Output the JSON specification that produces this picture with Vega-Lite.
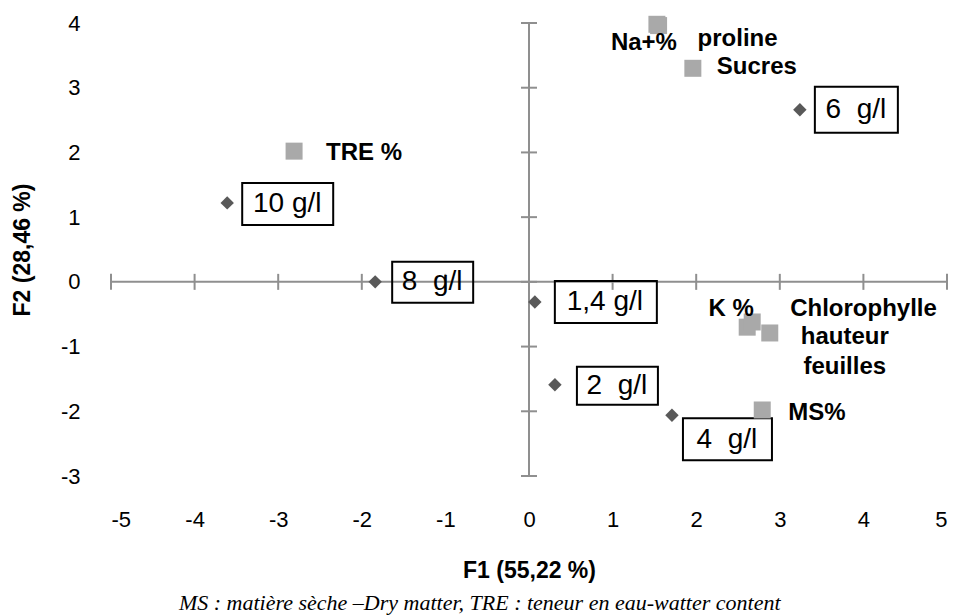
{
  "$schema": "https://vega.github.io/schema/vega-lite/v6.json",
  "width": 836,
  "height": 453,
  "autosize": {"type": "none"},
  "padding": {"left": 111, "top": 23, "right": 10, "bottom": 139},
  "background": "white",
  "config": {
    "view": {"stroke": null},
    "font": "Liberation Sans",
    "axis": {
      "domain": false, "ticks": false, "tickSize": 0, "grid": false,
      "labelFont": "Liberation Sans", "labelFontSize": 22, "labelColor": "#000000",
      "titleFont": "Liberation Sans", "titleFontSize": 23, "titleFontWeight": "bold", "titleColor": "#000000"
    },
    "axisX": {"labelPadding": 33, "titlePadding": 29},
    "axisY": {"labelPadding": 31, "titlePadding": 26}
  },
  "title": {
    "text": "MS : matière sèche –Dry matter, TRE : teneur en eau-watter content",
    "orient": "bottom", "anchor": "middle", "frame": "bounds",
    "font": "Liberation Serif", "fontSize": 22, "fontStyle": "italic", "fontWeight": "normal",
    "color": "#000000", "offset": 11
  },
  "datasets": {
    "conc": [
      {"conc": 10, "label": "10 g/l", "F1": -3.61, "F2": 1.22},
      {"conc": 8, "label": "8\u00a0\u00a0g/l", "F1": -1.84, "F2": 0.0},
      {"conc": 1.4, "label": "1,4 g/l", "F1": 0.07, "F2": -0.31},
      {"conc": 2, "label": "2\u00a0\u00a0g/l", "F1": 0.31, "F2": -1.59},
      {"conc": 4, "label": "4\u00a0\u00a0g/l", "F1": 1.71, "F2": -2.06},
      {"conc": 6, "label": "6\u00a0\u00a0g/l", "F1": 3.24, "F2": 2.66}
    ],
    "vars": [
      {"label": "TRE %", "F1": -2.81, "F2": 2.02},
      {"label": "Na+%", "F1": 1.53, "F2": 3.98},
      {"label": "proline", "F1": 1.55, "F2": 3.96},
      {"label": "Sucres", "F1": 1.96, "F2": 3.30},
      {"label": "K %", "F1": 2.61, "F2": -0.70},
      {"label": "Chlorophylle", "F1": 2.67, "F2": -0.62},
      {"label": "hauteur feuilles", "F1": 2.88, "F2": -0.79},
      {"label": "MS%", "F1": 2.79, "F2": -1.98}
    ],
    "xt": [{"v": -5}, {"v": -4}, {"v": -3}, {"v": -2}, {"v": -1}, {"v": 0}, {"v": 1}, {"v": 2}, {"v": 3}, {"v": 4}, {"v": 5}],
    "yt": [{"v": -3}, {"v": -2}, {"v": -1}, {"v": 0}, {"v": 1}, {"v": 2}, {"v": 3}, {"v": 4}]
  },
  "layer": [
    {
      "data": {"values": [{}]},
      "mark": {"type": "rule", "color": "#8f8f8f", "strokeWidth": 2},
      "encoding": {
        "x": {"datum": -5, "type": "quantitative",
          "scale": {"domain": [-5, 5], "nice": false, "zero": false},
          "axis": {"values": [-5, -4, -3, -2, -1, 0, 1, 2, 3, 4, 5], "labelExpr": "'' + datum.value", "title": "F1 (55,22 %)"}},
        "x2": {"datum": 5},
        "y": {"datum": 0, "type": "quantitative",
          "scale": {"domain": [-3, 4], "nice": false, "zero": false},
          "axis": {"values": [-3, -2, -1, 0, 1, 2, 3, 4], "labelExpr": "'' + datum.value", "title": "F2 (28,46 %)"}}
      }
    },
    {
      "data": {"values": [{}]},
      "mark": {"type": "rule", "color": "#8f8f8f", "strokeWidth": 2},
      "encoding": {
        "x": {"datum": 0, "type": "quantitative"},
        "y": {"datum": -3, "type": "quantitative"},
        "y2": {"datum": 4}
      }
    },
    {
      "data": {"name": "xt"},
      "mark": {"type": "tick", "orient": "vertical", "size": 16, "thickness": 2, "color": "#8f8f8f", "opacity": 1},
      "encoding": {
        "x": {"field": "v", "type": "quantitative"},
        "y": {"datum": 0, "type": "quantitative"}
      }
    },
    {
      "data": {"name": "yt"},
      "mark": {"type": "tick", "orient": "horizontal", "size": 16, "thickness": 2, "color": "#8f8f8f", "opacity": 1},
      "encoding": {
        "x": {"datum": 0, "type": "quantitative"},
        "y": {"field": "v", "type": "quantitative"}
      }
    },
    {
      "data": {"name": "conc"},
      "layer": [
        {
          "mark": {"type": "point", "shape": "diamond", "filled": true, "size": 180, "color": "#595959", "opacity": 1},
          "encoding": {"x": {"field": "F1", "type": "quantitative"}, "y": {"field": "F2", "type": "quantitative"}}
        },
        {
          "transform": [{"filter": "datum.conc === 10"}],
          "layer": [
            {"mark": {"type": "rect", "fill": "transparent", "stroke": "#000000", "strokeWidth": 2, "xOffset": 15, "x2Offset": 106, "yOffset": -20, "y2Offset": 22},
             "encoding": {"x": {"field": "F1", "type": "quantitative"}, "x2": {"field": "F1"}, "y": {"field": "F2", "type": "quantitative"}, "y2": {"field": "F2"}}},
            {"mark": {"type": "text", "fontSize": 28, "color": "#000000", "align": "center", "baseline": "middle", "dx": 60, "dy": 1},
             "encoding": {"x": {"field": "F1", "type": "quantitative"}, "y": {"field": "F2", "type": "quantitative"}, "text": {"field": "label"}}}
          ]
        },
        {
          "transform": [{"filter": "datum.conc === 8"}],
          "layer": [
            {"mark": {"type": "rect", "fill": "transparent", "stroke": "#000000", "strokeWidth": 2, "xOffset": 17, "x2Offset": 98, "yOffset": -20, "y2Offset": 21},
             "encoding": {"x": {"field": "F1", "type": "quantitative"}, "x2": {"field": "F1"}, "y": {"field": "F2", "type": "quantitative"}, "y2": {"field": "F2"}}},
            {"mark": {"type": "text", "fontSize": 28, "color": "#000000", "align": "center", "baseline": "middle", "dx": 57, "dy": 0},
             "encoding": {"x": {"field": "F1", "type": "quantitative"}, "y": {"field": "F2", "type": "quantitative"}, "text": {"field": "label"}}}
          ]
        },
        {
          "transform": [{"filter": "datum.conc === 1.4"}],
          "layer": [
            {"mark": {"type": "rect", "fill": "transparent", "stroke": "#000000", "strokeWidth": 2, "xOffset": 20, "x2Offset": 122, "yOffset": -21, "y2Offset": 21},
             "encoding": {"x": {"field": "F1", "type": "quantitative"}, "x2": {"field": "F1"}, "y": {"field": "F2", "type": "quantitative"}, "y2": {"field": "F2"}}},
            {"mark": {"type": "text", "fontSize": 28, "color": "#000000", "align": "center", "baseline": "middle", "dx": 70, "dy": 0},
             "encoding": {"x": {"field": "F1", "type": "quantitative"}, "y": {"field": "F2", "type": "quantitative"}, "text": {"field": "label"}}}
          ]
        },
        {
          "transform": [{"filter": "datum.conc === 2"}],
          "layer": [
            {"mark": {"type": "rect", "fill": "transparent", "stroke": "#000000", "strokeWidth": 2, "xOffset": 22, "x2Offset": 103, "yOffset": -18, "y2Offset": 20},
             "encoding": {"x": {"field": "F1", "type": "quantitative"}, "x2": {"field": "F1"}, "y": {"field": "F2", "type": "quantitative"}, "y2": {"field": "F2"}}},
            {"mark": {"type": "text", "fontSize": 28, "color": "#000000", "align": "center", "baseline": "middle", "dx": 62, "dy": 1},
             "encoding": {"x": {"field": "F1", "type": "quantitative"}, "y": {"field": "F2", "type": "quantitative"}, "text": {"field": "label"}}}
          ]
        },
        {
          "transform": [{"filter": "datum.conc === 4"}],
          "layer": [
            {"mark": {"type": "rect", "fill": "transparent", "stroke": "#000000", "strokeWidth": 2, "xOffset": 11, "x2Offset": 100, "yOffset": 3, "y2Offset": 45},
             "encoding": {"x": {"field": "F1", "type": "quantitative"}, "x2": {"field": "F1"}, "y": {"field": "F2", "type": "quantitative"}, "y2": {"field": "F2"}}},
            {"mark": {"type": "text", "fontSize": 28, "color": "#000000", "align": "center", "baseline": "middle", "dx": 55, "dy": 25},
             "encoding": {"x": {"field": "F1", "type": "quantitative"}, "y": {"field": "F2", "type": "quantitative"}, "text": {"field": "label"}}}
          ]
        },
        {
          "transform": [{"filter": "datum.conc === 6"}],
          "layer": [
            {"mark": {"type": "rect", "fill": "transparent", "stroke": "#000000", "strokeWidth": 2, "xOffset": 15, "x2Offset": 98, "yOffset": -23, "y2Offset": 23},
             "encoding": {"x": {"field": "F1", "type": "quantitative"}, "x2": {"field": "F1"}, "y": {"field": "F2", "type": "quantitative"}, "y2": {"field": "F2"}}},
            {"mark": {"type": "text", "fontSize": 28, "color": "#000000", "align": "center", "baseline": "middle", "dx": 56, "dy": 0},
             "encoding": {"x": {"field": "F1", "type": "quantitative"}, "y": {"field": "F2", "type": "quantitative"}, "text": {"field": "label"}}}
          ]
        }
      ]
    },
    {
      "data": {"name": "vars"},
      "layer": [
        {
          "mark": {"type": "point", "shape": "square", "filled": true, "size": 289, "color": "#a9a9a9", "opacity": 1},
          "encoding": {"x": {"field": "F1", "type": "quantitative"}, "y": {"field": "F2", "type": "quantitative"}}
        },
        {
          "transform": [{"filter": "datum.label === 'TRE %'"}],
          "mark": {"type": "text", "fontSize": 24, "fontWeight": "bold", "color": "#000000", "align": "left", "baseline": "middle", "dx": 32, "dy": 2},
          "encoding": {"x": {"field": "F1", "type": "quantitative"}, "y": {"field": "F2", "type": "quantitative"}, "text": {"field": "label"}}
        },
        {
          "transform": [{"filter": "datum.label === 'Na+%'"}],
          "mark": {"type": "text", "fontSize": 24, "fontWeight": "bold", "color": "#000000", "align": "center", "baseline": "middle", "dx": -13, "dy": 19},
          "encoding": {"x": {"field": "F1", "type": "quantitative"}, "y": {"field": "F2", "type": "quantitative"}, "text": {"field": "label"}}
        },
        {
          "transform": [{"filter": "datum.label === 'proline'"}],
          "mark": {"type": "text", "fontSize": 24, "fontWeight": "bold", "color": "#000000", "align": "left", "baseline": "middle", "dx": 39, "dy": 13},
          "encoding": {"x": {"field": "F1", "type": "quantitative"}, "y": {"field": "F2", "type": "quantitative"}, "text": {"field": "label"}}
        },
        {
          "transform": [{"filter": "datum.label === 'Sucres'"}],
          "mark": {"type": "text", "fontSize": 24, "fontWeight": "bold", "color": "#000000", "align": "left", "baseline": "middle", "dx": 24, "dy": -1},
          "encoding": {"x": {"field": "F1", "type": "quantitative"}, "y": {"field": "F2", "type": "quantitative"}, "text": {"field": "label"}}
        },
        {
          "transform": [{"filter": "datum.label === 'K %'"}],
          "mark": {"type": "text", "fontSize": 24, "fontWeight": "bold", "color": "#000000", "align": "center", "baseline": "middle", "dx": -16, "dy": -18},
          "encoding": {"x": {"field": "F1", "type": "quantitative"}, "y": {"field": "F2", "type": "quantitative"}, "text": {"field": "label"}}
        },
        {
          "transform": [{"filter": "datum.label === 'Chlorophylle'"}],
          "mark": {"type": "text", "fontSize": 24, "fontWeight": "bold", "color": "#000000", "align": "left", "baseline": "middle", "dx": 38, "dy": -13},
          "encoding": {"x": {"field": "F1", "type": "quantitative"}, "y": {"field": "F2", "type": "quantitative"}, "text": {"field": "label"}}
        },
        {
          "transform": [{"filter": "datum.label === 'hauteur feuilles'"}],
          "mark": {"type": "text", "fontSize": 24, "fontWeight": "bold", "color": "#000000", "align": "center", "baseline": "middle", "lineBreak": " ", "lineHeight": 30, "dx": 75, "dy": 4},
          "encoding": {"x": {"field": "F1", "type": "quantitative"}, "y": {"field": "F2", "type": "quantitative"}, "text": {"field": "label"}}
        },
        {
          "transform": [{"filter": "datum.label === 'MS%'"}],
          "mark": {"type": "text", "fontSize": 24, "fontWeight": "bold", "color": "#000000", "align": "left", "baseline": "middle", "dx": 26, "dy": 3},
          "encoding": {"x": {"field": "F1", "type": "quantitative"}, "y": {"field": "F2", "type": "quantitative"}, "text": {"field": "label"}}
        }
      ]
    }
  ]
}
